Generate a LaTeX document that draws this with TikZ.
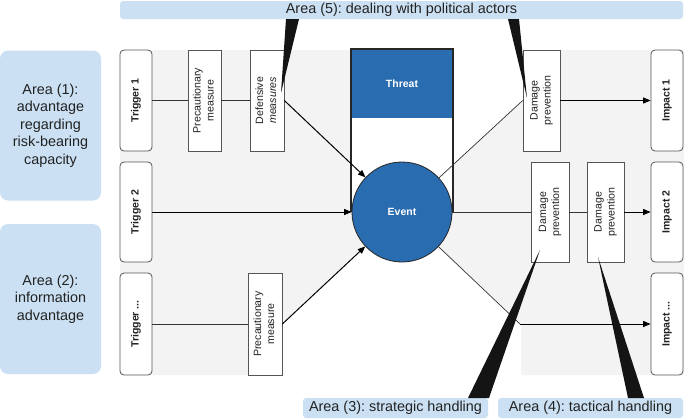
\documentclass[tikz,border=0pt]{standalone}
\usepackage{fontspec}
\setmainfont{Liberation Sans}
\usepackage{graphicx}
\usetikzlibrary{arrows.meta}
\definecolor{callout}{HTML}{CBE1F3}
\definecolor{evblue}{HTML}{2A6CB0}
\definecolor{bggray}{HTML}{F3F3F3}
\definecolor{boxline}{HTML}{555555}
\definecolor{txt}{HTML}{222222}
\newcommand\vtext[1]{\rotatebox{90}{\begin{tabular}{@{}c@{}}#1\end{tabular}}}
\frenchspacing
\begin{document}
\begin{tikzpicture}[x=1pt,y=-1pt,
  trig/.style={draw=boxline, line width=0.8pt, rounded corners=4pt, fill=white, inner sep=0pt,
    minimum width=32pt, text=txt, font=\fontsize{10.5}{12.5}\selectfont\bfseries},
  mbox/.style={draw=boxline, line width=0.7pt, fill=white, inner sep=0pt, text=txt,
    font=\fontsize{10.6}{13}\selectfont},
  call/.style={fill=callout, rounded corners=#1, inner sep=0pt, text=txt, align=center,
    font=\fontsize{14.4}{17.6}\selectfont},
  thin/.style={draw=black!80, line width=0.7pt},
  arr/.style={draw=black, line width=1pt, -{Triangle[length=7.5pt,width=6pt]}},
  wedge/.style={fill=black!92}
]
\useasboundingbox (0,0) rectangle (685,418);

% grey background region
\fill[bggray] (120,50) -- (453,50) -- (453,165) -- (523,100.5) -- (523,50) -- (684,50)
  -- (684,375) -- (521,375) -- (521,324) -- (402,212) -- (282,324) -- (282,375) -- (120,375) -- cycle;

% threat column
\fill[white] (351,49) rectangle (453,212);
\node[fill=evblue, minimum width=102pt, minimum height=69pt, inner sep=0pt, text=white,
  font=\fontsize{10.5}{12.5}\selectfont\bfseries] (threat) at (402,83.5) {Threat};
\draw[draw=black!85, line width=1.2pt] (351,212) -- (351,49) -- (453,49) -- (453,212);

% left nodes
\node[trig, minimum height=101pt] (t1) at (136,100.5) {\vtext{Trigger 1}};
\node[trig, minimum height=100pt] (t2) at (136,212) {\vtext{Trigger 2}};
\node[trig, minimum height=102pt] (t3) at (136,324) {\vtext{Trigger ...}};
\node[mbox, minimum width=33pt, minimum height=101pt] (p1) at (204.5,100.5) {\vtext{Precautionary\\measure}};
\node[mbox, minimum width=34pt, minimum height=101pt] (d1) at (267,100.5) {\vtext{Defensive\\\itshape measures}};
\node[mbox, minimum width=34pt, minimum height=102pt] (p2) at (265,324) {\vtext{Precautionary\\measure}};

% right nodes
\node[mbox, minimum width=37pt, minimum height=101pt] (dp1) at (541.5,100.5) {\vtext{Damage\\prevention}};
\node[mbox, minimum width=38pt, minimum height=100pt] (dp2) at (550,212) {\vtext{Damage\\prevention}};
\node[mbox, minimum width=37pt, minimum height=100pt] (dp3) at (605.5,212) {\vtext{Damage\\prevention}};
\node[trig, minimum height=101pt] (i1) at (667,100.5) {\vtext{Impact 1}};
\node[trig, minimum height=100pt] (i2) at (667,212) {\vtext{Impact 2}};
\node[trig, minimum height=102pt] (i3) at (667,324) {\vtext{Impact ...}};

% event
\node[circle, fill=evblue, draw=black!85, line width=0.8pt, minimum size=100pt, inner sep=0pt,
  text=white, font=\fontsize{10.5}{12.5}\selectfont\bfseries] (event) at (402,212) {Event};

\coordinate (bend) at (520,324);

% connectors
\draw[thin] (t1.east) -- (p1.west);
\draw[thin] (p1.east) -- (d1.west);
\draw[arr] (d1.east) -- (event);
\draw[arr] (t2.east) -- (event);
\draw[thin] (t3.east) -- (p2.west);
\draw[arr] (p2.east) -- (event);
\draw[thin] (event) -- (dp1.west);
\draw[arr] (dp1.east) -- (i1.west);
\draw[thin] (event) -- (dp2.west);
\draw[thin] (dp2.east) -- (dp3.west);
\draw[arr] (dp3.east) -- (i2.west);
\draw[thin] (event) -- (bend);
\draw[arr] (bend) -- (i3.west);

% callout boxes
\node[call=3pt, minimum width=563pt, minimum height=18pt] (a5) at (401.5,10) {Area (5): dealing with political actors};
\node[call=8pt, minimum width=101pt, minimum height=150pt] (a1) at (50.5,125.5) {Area (1):\\advantage\\regarding\\risk-bearing\\capacity};
\node[call=8pt, minimum width=101pt, minimum height=150pt] (a2) at (50.5,299) {Area (2):\\information\\advantage};
\node[call=3pt, minimum width=185pt, minimum height=20pt] (a3) at (395.5,408) {Area (3): strategic handling};
\node[call=3pt, minimum width=185pt, minimum height=20pt] (a4) at (590.5,408) {Area (4): tactical handling};

% pointer wedges
\fill[wedge] (286,19) -- (299,19) -- (281,93) -- cycle;
\fill[wedge] (508,19) -- (519,19) -- (527,98) -- cycle;
\fill[wedge] (468,398) -- (489,398) -- (540,250) -- cycle;
\fill[wedge] (628,398) -- (644,398) -- (598,257) -- cycle;
\end{tikzpicture}
\end{document}
